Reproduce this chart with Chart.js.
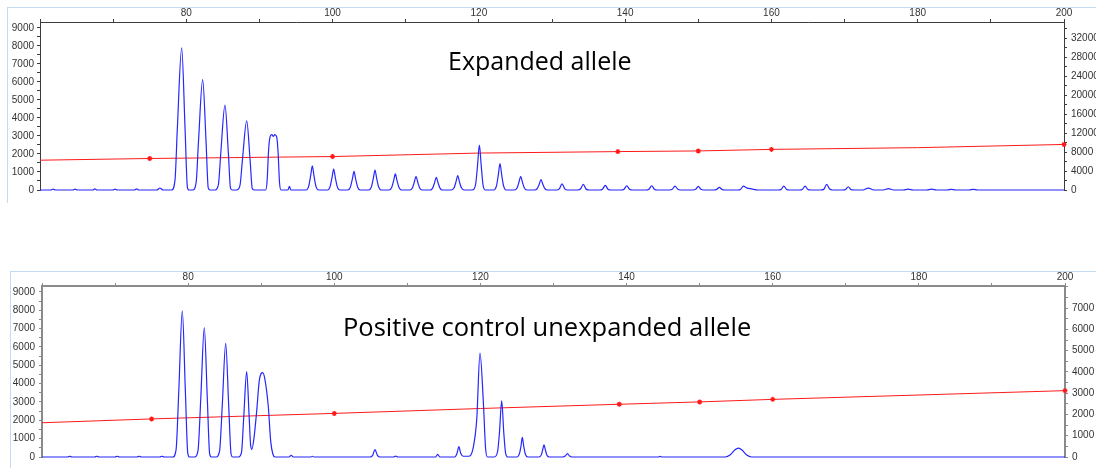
<!DOCTYPE html>
<html><head><meta charset="utf-8">
<script src="https://cdn.jsdelivr.net/npm/chart.js@4.4.1/dist/chart.umd.min.js"></script>
<style>
html,body{margin:0;padding:0;background:#fff;width:1096px;height:468px;overflow:hidden;position:relative}
.frameH{position:absolute;height:1px;background:#c6daf2}
.frameV{position:absolute;width:1px;background:#c6daf2}
canvas{position:absolute;left:0}
.title{position:absolute;font-family:'Open Sans';font-size:25px;line-height:25px;color:#000;white-space:nowrap}
</style></head><body>
<div class="frameH" style="left:7px;top:7px;width:1089px"></div>
<div class="frameV" style="left:7px;top:7px;height:196px"></div>
<div class="frameH" style="left:10px;top:271px;width:1086px"></div>
<div class="frameV" style="left:10px;top:271px;height:197px"></div>
<canvas id="c1" width="1140" height="200" style="top:0"></canvas>
<canvas id="c2" width="1140" height="203" style="top:264px"></canvas>
<div class="title" style="left:448px;top:48px">Expanded allele</div>
<div class="title" style="left:343px;top:314px;font-size:25.5px">Positive control unexpanded allele</div>
<script>
// ---------- data (size in bp vs. RFU) ----------
const topBlueX = [60,
 61.5,61.8,62.1, 64.5,64.8,65.1, 67.2,67.5,67.8, 69.95,70.25,70.55, 72.9,73.2,73.5, 76.0,76.4,76.8,
 78.0,78.46,78.78,79.37,79.83,80.15,80.35,
 80.9,81.35,81.67,82.24,82.7,83.0,83.25,
 83.95,84.4,84.72,85.29,85.75,86.05,86.3,
 86.9,87.35,87.68,88.26,88.72,89.02,89.25,
 90.85,91.05,91.25,91.45,91.7,91.9,92.1,92.36,92.55,92.75,92.95,
 93.9,94.1,94.3,
 96.38,96.73,97.01,97.23,97.45,97.73,98.08,
 99.3,99.65,99.93,100.15,100.37,100.65,101.0,
 102.08,102.43,102.71,102.93,103.15,103.43,103.78,
 104.95,105.3,105.58,105.8,106.02,106.3,106.65,
 107.73,108.08,108.36,108.58,108.8,109.08,109.43,
 110.56,110.91,111.19,111.41,111.63,111.91,112.26,
 113.33,113.68,113.96,114.18,114.4,114.68,115.03,
 116.26,116.61,116.89,117.11,117.33,117.61,117.96,
 119.1,119.55,119.82,120.07,120.32,120.58,120.9,
 122.0,122.4,122.65,122.89,123.13,123.4,123.75,
 124.87,125.22,125.5,125.72,125.94,126.22,126.57,
 127.65,128.0,128.28,128.5,128.72,129.0,129.35,
 130.6,131.0,131.37,131.75,132.15,
 133.5,133.9,134.28,134.65,135.05,
 136.5,136.9,137.29,137.65,138.05,
 139.45,139.85,140.21,140.6,141.0,
 142.85,143.25,143.63,144.0,144.4,
 146.05,146.45,146.82,147.2,147.6,
 149.25,149.65,150.0,150.35,150.75,
 152.1,152.5,152.87,153.25,153.65,
 155.4,155.8,156.16,156.6,157.3,158.2,
 160.95,161.35,161.7,162.05,162.45,
 163.85,164.25,164.6,164.95,165.35,
 166.8,167.2,167.56,167.95,168.35,
 169.75,170.15,170.5,170.85,171.25,
 172.5,173.25,174.0, 175.3,176.0,176.7, 178.0,178.7,179.4,
 181.2,181.9,182.6, 184.0,184.6,185.2, 187.0,187.6,188.2,
 200];
const topBlueY = [0,
 0,50,0, 0,50,0, 0,60,0, 0,50,0, 0,60,0, 0,110,0,
 0,560,3440,7894,3440,160,0,
 0,430,2700,6127,2700,120,0,
 0,330,2070,4710,2070,90,0,
 0,270,1690,3835,1690,80,0,
 0,500,2200,2950,3080,2980,3080,2950,2100,400,0,
 0,200,0,
 0,200,810,1347,810,200,0,
 0,175,700,1162,700,175,0,
 0,155,620,1036,620,155,0,
 0,165,665,1108,665,165,0,
 0,135,535,890,535,135,0,
 0,115,460,764,460,115,0,
 0,105,425,709,425,105,0,
 0,120,480,800,480,120,0,
 0,300,1370,2493,1370,250,0,
 0,220,810,1473,810,200,0,
 0,115,460,764,460,115,0,
 0,90,350,584,350,90,0,
 0,60,344,60,0,
 0,55,311,55,0,
 0,45,256,45,0,
 0,40,235,40,0,
 0,40,235,40,0,
 0,40,218,40,0,
 0,35,200,35,0,
 0,25,145,25,0,
 0,40,218,120,60,0,
 0,40,218,40,0,
 0,40,218,40,0,
 0,55,311,55,0,
 0,30,180,30,0,
 0,109,0, 0,80,0, 0,50,0,
 0,50,0, 0,40,0, 0,40,0,
 0];

const topRedX = [60,75,100,120,139,150,160,180,200];
const topRedY = [6280,6640,7050,7780,8090,8230,8560,8920,9600];
const topMarks = [75,100,139,150,160,200];

const botBlueX = [60,
 63.5,63.8,64.1, 67.2,67.5,67.8, 70.0,70.3,70.6, 73.0,73.3,73.6, 76.1,76.4,76.7,
 77.9,78.35,78.72,79.2,79.62,79.95,80.2,
 80.9,81.35,81.73,82.21,82.62,82.95,83.2,
 83.85,84.3,84.67,85.14,85.55,85.88,86.1,
 86.9,87.3,87.6,88.01,88.35,88.55,88.72,
 89.0,89.38,89.75,90.2,90.5,90.97,91.3,91.6,91.9,
 93.8,94.1,94.4, 96.8,97.0,97.2,
 104.9,105.25,105.57,105.9,106.25,
 108.1,108.4,108.7, 113.85,114.15,114.45,
 116.5,116.8,117.05,117.3,117.65,
 118.45,119.0,119.5,119.94,120.4,120.7,120.95,
 121.9,122.35,122.6,122.91,123.2,123.45,123.75,
 125.0,125.35,125.55,125.73,125.92,126.15,126.5,
 128.0,128.35,128.52,128.7,128.88,129.1,129.45,
 131.3,131.6,131.9,132.2,132.5,
 144.3,144.6,144.9,
 153.5,154.2,154.8,155.3,155.8,156.4,157.1,
 200];
const botBlueY = [0,
 0,40,0, 0,40,0, 0,40,0, 0,40,0, 0,40,0,
 0,400,3600,7972,3600,200,0,
 0,350,3200,7050,3200,150,0,
 0,320,2800,6198,2800,150,0,
 0,250,2100,4654,2200,650,420,
 1000,2500,4200,4600,4250,2750,850,150,0,
 0,90,0, 0,40,0,
 0,90,400,90,0,
 0,50,0, 0,140,0,
 0,200,570,200,40,
 40,480,2080,5666,3000,500,0,
 0,300,1300,3056,1300,200,0,
 0,200,600,1065,600,150,0,
 0,130,400,660,400,100,0,
 0,50,180,50,0,
 0,30,0,
 0,120,380,480,380,120,0,
 0];

const botRedX = [60,75,100,120,139,150,160,200];
const botRedY = [1610,1790,2050,2280,2480,2590,2710,3120];
const botMarks = [75,100,139,150,160,200];

// ---------- tick positions ----------
const xTickVals = [60,70,80,90,100,110,120,130,140,150,160,170,180,190,200];
const xLabelVals = [80,100,120,140,160,180,200];
const leftTickVals = [0,500,1000,1500,2000,2500,3000,3500,4000,4500,5000,5500,6000,6500,7000,7500,8000,8500,9000];
const leftLabelVals = [0,1000,2000,3000,4000,5000,6000,7000,8000,9000];
const topRightTickVals = [0,2000,4000,6000,8000,10000,12000,14000,16000,18000,20000,22000,24000,26000,28000,30000,32000,34000];
const topRightLabelVals = [0,4000,8000,12000,16000,20000,24000,28000,32000];
const botRightTickVals = [0,500,1000,1500,2000,2500,3000,3500,4000,4500,5000,5500,6000,6500,7000,7500,8000];
const botRightLabelVals = [0,1000,2000,3000,4000,5000,6000,7000];

// ---------- chart builder ----------
Chart.defaults.font.family = "'Liberation Sans', Arial, sans-serif";
Chart.defaults.font.size = 10;
Chart.defaults.color = '#333';

function pts(xs, ys){ return xs.map((x,i)=>({x:x, y:ys[i]})); }
function setTicks(vals){ return s => { s.ticks = vals.map(v => ({value:v})); }; }
function labelCb(labels){ return v => labels.includes(v) ? String(v) : ''; }

function build(id, p){
  const axisColor = p.axisColor, axisW = p.axisW;
  return new Chart(document.getElementById(id), {
    type:'line',
    data:{datasets:[
      {data:pts(p.redX,p.redY), yAxisID:'y2', borderColor:'#ff1a1a', backgroundColor:'#ff1a1a',
       borderWidth:1, pointStyle:'star', pointBorderWidth:1.3,
       pointRadius: c => (c.raw && p.marks.includes(c.raw.x)) ? 2.5 : 0, clip:false, order:2},
      {data:pts(p.blueX,p.blueY), yAxisID:'y', borderColor:'#2626ff', borderWidth:1.2,
       pointRadius:0, cubicInterpolationMode:'monotone', clip:{left:0,right:0,top:0,bottom:3}, order:1}
    ]},
    options:{
      responsive:false, animation:false, devicePixelRatio:1,
      layout:{padding:{left:0,right:0,top:0,bottom:p.padBottom}},
      plugins:{legend:{display:false}, tooltip:{enabled:false}},
      scales:{
        x:{type:'linear', position:'top', min:60, max:200,
           afterFit: s => { s.height = p.topH; },
           afterBuildTicks: setTicks(xTickVals),
           ticks:{autoSkip:false, maxRotation:0, padding:0, callback: labelCb(xLabelVals)},
           grid:{drawOnChartArea:false, tickLength:3, color:axisColor, tickColor:axisColor},
           border:{color:axisColor, width:axisW}},
        y:{type:'linear', position:'left', min:0, max:p.yMax,
           afterFit: s => { s.width = p.leftW; },
           afterBuildTicks: setTicks(leftTickVals),
           ticks:{autoSkip:false, padding:p.pad, callback: labelCb(leftLabelVals)},
           grid:{drawOnChartArea:false, tickLength:3, color:axisColor, tickColor:axisColor},
           border:{color:axisColor, width:axisW}},
        y2:{type:'linear', position:'right', min:0, max:p.y2Max,
           afterFit: s => { s.width = p.rightW; },
           afterBuildTicks: setTicks(p.rTicks),
           ticks:{autoSkip:false, padding:p.pad2, callback: labelCb(p.rLabels)},
           grid:{drawOnChartArea:false, tickLength:3, color:axisColor, tickColor:axisColor},
           border:{color:axisColor, width:axisW}}
      }
    }
  });
}

build('c1', {blueX:topBlueX, blueY:topBlueY, redX:topRedX, redY:topRedY, marks:topMarks,
  yMax:9330, y2Max:35400, rTicks:topRightTickVals, rLabels:topRightLabelVals,
  leftW:40, rightW:76, topH:22, padBottom:7, pad:3, pad2:4,
  axisColor:'#3c3c3c', axisW:1});
build('c2', {blueX:botBlueX, blueY:botBlueY, redX:botRedX, redY:botRedY, marks:botMarks,
  yMax:9320, y2Max:8040, rTicks:botRightTickVals, rLabels:botRightLabelVals,
  leftW:42, rightW:75, topH:22, padBottom:6, pad:4, pad2:4,
  axisColor:'#8a8a8a', axisW:2});
</script>
</body></html>
